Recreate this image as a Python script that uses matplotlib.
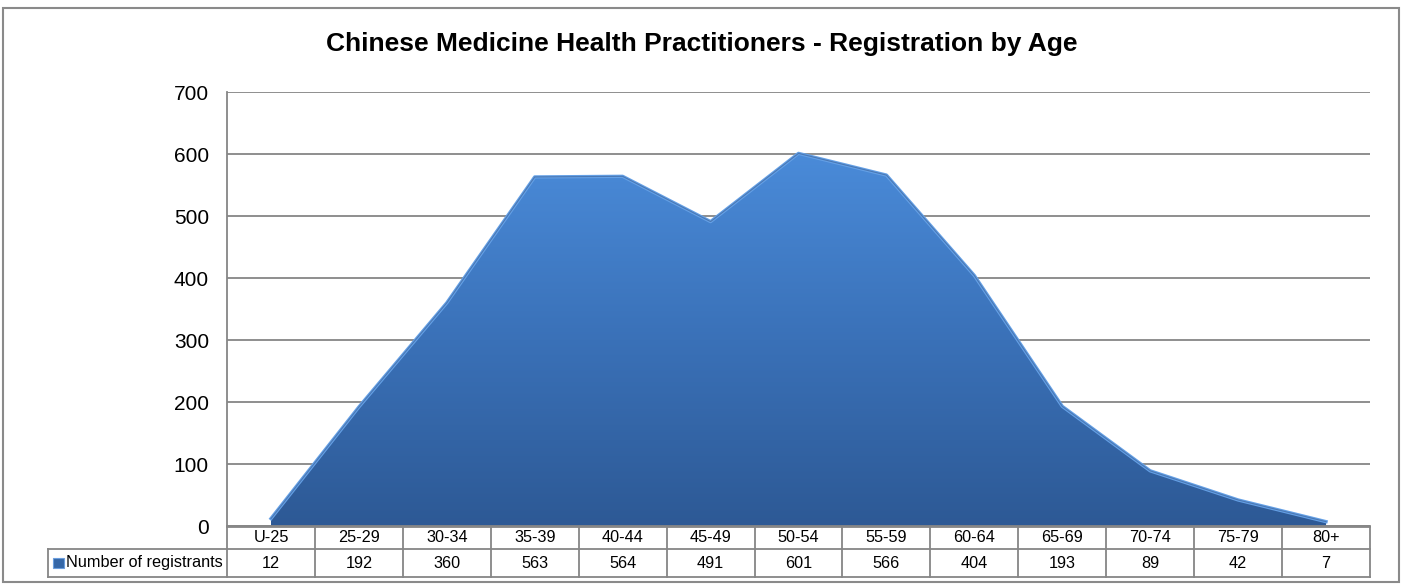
import numpy as np
import matplotlib
matplotlib.use('Agg')
import matplotlib.pyplot as plt
from matplotlib.patches import Rectangle, Polygon
from matplotlib.colors import LinearSegmentedColormap

plt.rcParams['font.family'] = ['Liberation Sans', 'DejaVu Sans']

# Chart data
TITLE = 'Chinese Medicine Health Practitioners - Registration by Age'
SERIES_NAME = 'Number of registrants'
age_groups = ['U-25', '25-29', '30-34', '35-39', '40-44', '45-49', '50-54',
              '55-59', '60-64', '65-69', '70-74', '75-79', '80+']
registrants = [12, 192, 360, 563, 564, 491, 601, 566, 404, 193, 89, 42, 7]
y_ticks = [0, 100, 200, 300, 400, 500, 600, 700]

W, H = 1404, 584
GRID = '#868686'


def px_box(x0, y0, x1, y1):
    """Convert a pixel box (top-left origin) to figure fraction rect."""
    return [x0 / W, 1 - y1 / H, (x1 - x0) / W, (y1 - y0) / H]


fig = plt.figure(figsize=(W / 100, H / 100), dpi=100)

# outer chart border
fig.patches.append(Rectangle((3 / W, 1 - 582 / H), 1396 / W, 574 / H,
                             transform=fig.transFigure, fill=False,
                             edgecolor='#8a8a8a', lw=1.5))

fig.text(0.5, 1 - 44 / H, TITLE, ha='center', va='center',
         fontsize=19, fontweight='bold')

# main plot area
ax = fig.add_axes(px_box(227, 92, 1370, 526))
x = np.arange(len(age_groups))

# area with vertical gradient, clipped to the series polygon
verts = list(zip(x, registrants)) + [(x[-1], 0), (x[0], 0)]
poly = Polygon(verts, closed=True, facecolor='none', edgecolor='none')
ax.add_patch(poly)
cmap = LinearSegmentedColormap.from_list('blues', ['#2d5995', '#3a71b8', '#4a8bd9'])
grad = np.linspace(0, 1, 256).reshape(-1, 1)
im = ax.imshow(grad, extent=(x[0], x[-1], 0, max(registrants)), origin='lower',
               aspect='auto', cmap=cmap, zorder=2, interpolation='bicubic')
im.set_clip_path(poly)
ax.plot(x, registrants, color='#64a0e6', lw=2.4, zorder=3, solid_joinstyle='round')
ax.plot(x, registrants, color='#4a78b4', lw=0.8, zorder=3)

ax.set_xlim(-0.5, len(age_groups) - 0.5)
ax.set_ylim(0, 700)
ax.set_yticks(y_ticks)
ax.set_xticks([])
ax.yaxis.grid(True, color=GRID, lw=1.3)
ax.set_axisbelow(True)
ax.tick_params(axis='y', length=0, pad=13, labelsize=15)
for side in ['top', 'right']:
    ax.spines[side].set_visible(False)
for side in ['left', 'bottom']:
    ax.spines[side].set_color(GRID)
    ax.spines[side].set_linewidth(1.3)

# data table under the chart
tax = fig.add_axes(px_box(227, 527, 1370, 577))
tax.set_xlim(-0.5, len(age_groups) - 0.5)
tax.set_ylim(50, 0)
tax.axis('off')
col_w = (1370 - 227) / len(age_groups)
lx = -0.5 - (227 - 48) / col_w
r1, r2 = 22, 50
line_kw = dict(color=GRID, lw=1.3, clip_on=False)
tax.plot([-0.5, x[-1] + 0.5], [0, 0], **line_kw)
tax.plot([lx, x[-1] + 0.5], [r1, r1], **line_kw)
tax.plot([lx, x[-1] + 0.5], [r2, r2], **line_kw)
tax.plot([lx, lx], [r1, r2], **line_kw)
for i in range(len(age_groups) + 1):
    tax.plot([i - 0.5, i - 0.5], [0, r2], **line_kw)
for i, (grp, val) in enumerate(zip(age_groups, registrants)):
    tax.text(i, r1 / 2, grp, ha='center', va='center', fontsize=11.7)
    tax.text(i, (r1 + r2) / 2, str(val), ha='center', va='center', fontsize=11.7)

# legend key + series name
key_w = 11 / col_w
tax.add_patch(Rectangle((lx + 5 / col_w, 36 - 5), key_w, 10, facecolor='#3567a8',
                        edgecolor='#6b9ede', lw=0.8, clip_on=False))
tax.text(lx + 18 / col_w, (r1 + r2) / 2, SERIES_NAME, ha='left', va='center',
         fontsize=11.7)

fig.savefig('out.png', dpi=100)
